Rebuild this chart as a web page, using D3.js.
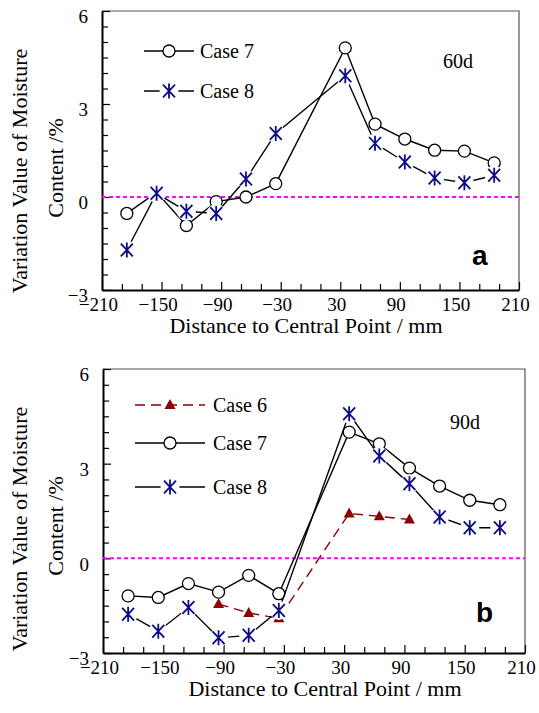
<!DOCTYPE html>
<html>
<head>
<meta charset="utf-8">
<script src="https://cdn.jsdelivr.net/npm/d3@7"></script>
<style>
	body { margin: 0; background: #fff; }
	svg { display: block; }
	svg text { font-family: "Liberation Serif", "Times New Roman", serif !important; }
	svg text.sans { font-family: "Liberation Sans", Arial, sans-serif !important; }
</style>
</head>
<body>
<svg id="chart" width="539" height="713"></svg>
<script>
// distance of each measuring point from the centre (mm)
var distances = [-185, -155, -125, -95, -65, -35, 35, 65, 95, 125, 155, 185];
var case6Distances = [-95, -65, -35, 35, 65, 95];

// 60 days
var case7_60d = [-0.53, 0.15, -0.92, -0.15, 0.0, 0.43, 4.81, 2.35, 1.87, 1.51, 1.48, 1.10];
var case8_60d = [-1.71, 0.12, -0.46, -0.53, 0.58, 2.05, 3.91, 1.73, 1.13, 0.61, 0.46, 0.70];

// 90 days
var case6_90d = [-1.45, -1.73, -1.90, 1.42, 1.33, 1.23];
var case7_90d = [-1.19, -1.24, -0.80, -1.07, -0.54, -1.12, 4.00, 3.63, 2.86, 2.29, 1.84, 1.70];
var case8_90d = [-1.77, -2.31, -1.56, -2.52, -2.44, -1.65, 4.58, 3.24, 2.36, 1.31, 0.97, 0.97];

var xMajorTicks = [-210, -150, -90, -30, 30, 90, 150, 210];
var yMajorTicks = [-3, 0, 3, 6];
var xDomain = [-210, 210];
var yDomain = [-3, 6];

var svg = d3.select("#chart");

var Marks = {
	star : function(r) {
		var a = r * 0.8, b = r * 0.85;
		return "M0," + (-r) + "L0," + r +
			   "M" + (-a) + "," + (-b) + "L" + a + "," + b +
			   "M" + a + "," + (-b) + "L" + (-a) + "," + b;
	},

	triangle : function(s) {
		var h = s * 0.9;
		return "M0," + (-h * 0.6) + "L" + (s / 2) + "," + (h * 0.4) + "L" + (-s / 2) + "," + (h * 0.4) + "Z";
	},

	draw : function(g, type, cx, cy) {
		if (type == "circle") {
			g.append("circle").attr("cx", cx).attr("cy", cy).attr("r", 6)
			 .attr("fill", "#fff").attr("stroke", "#000").attr("stroke-width", 1.3);
		}
		else if (type == "star") {
			g.append("circle").attr("cx", cx).attr("cy", cy).attr("r", 9.5).attr("fill", "#fff");
			g.append("path").attr("d", this.star(7.5)).attr("transform", "translate(" + cx + "," + cy + ")")
			 .attr("stroke", "#0b0b85").attr("stroke-width", 1.8).attr("fill", "none");
		}
		else if (type == "triangle") {
			g.append("path").attr("d", this.triangle(11)).attr("transform", "translate(" + cx + "," + cy + ")")
			 .attr("fill", "#8b0000");
		}
	}
};

var styles = {
	case6 : { label : "Case 6", marker : "triangle", color : "#8b0000", dash : "10,6" },
	case7 : { label : "Case 7", marker : "circle", color : "#000", dash : null },
	case8 : { label : "Case 8", marker : "star", color : "#000", dash : null }
};

function zip(xs, vs) {
	return xs.map(function(d, i) { return { x : d, v : vs[i] }; });
}

function sized(sel, size) {
	return sel.style("font-size", size + "px").attr("fill", "#000");
}

function drawPanel(cfg) {
	var g = svg.append("g");

	var x = d3.scaleLinear().domain(xDomain).range([cfg.left, cfg.right]);
	var y = d3.scaleLinear().domain(yDomain).range([cfg.bottom, cfg.top]);

	// thin frame on top and right
	g.append("path")
	 .attr("d", "M" + cfg.left + "," + cfg.top + "H" + cfg.right + "V" + cfg.bottom)
	 .attr("fill", "none").attr("stroke", "#555").attr("stroke-width", 1.2);

	// minor ticks
	var xMinor = d3.range(-210, 211, 20).filter(function(d) { return xMajorTicks.indexOf(d) < 0; });
	var yMinor = d3.range(-3, 6.01, 0.5).filter(function(d) { return yMajorTicks.indexOf(d) < 0; });

	g.append("g").attr("transform", "translate(0," + cfg.bottom + ")")
	 .call(d3.axisBottom(x).tickValues(xMinor).tickSize(-6).tickSizeOuter(0).tickFormat(""))
	 .call(function(a) { a.select(".domain").remove(); });

	g.append("g").attr("transform", "translate(" + cfg.left + ",0)")
	 .call(d3.axisLeft(y).tickValues(yMinor).tickSize(-6).tickSizeOuter(0).tickFormat(""))
	 .call(function(a) { a.select(".domain").remove(); });

	// major ticks with labels
	var xa = g.append("g").attr("transform", "translate(0," + cfg.bottom + ")")
			  .call(d3.axisBottom(x).tickValues(xMajorTicks).tickSize(-8).tickSizeOuter(0).tickPadding(7.5).tickFormat(d3.format("d")));
	sized(xa.selectAll("text"), 19).attr("dx", -4);
	xa.select(".domain").attr("stroke-width", 2);

	var ya = g.append("g").attr("transform", "translate(" + cfg.left + ",0)")
			  .call(d3.axisLeft(y).tickValues(yMajorTicks).tickSize(-8).tickSizeOuter(0).tickPadding(14).tickFormat(d3.format("d")));
	sized(ya.selectAll("text"), 19).attr("dy", "0.62em");
	ya.select(".domain").attr("stroke-width", 2);

	g.selectAll(".tick line").attr("stroke-width", 1.2);

	// zero line
	g.append("line")
	 .attr("x1", cfg.left).attr("x2", cfg.right)
	 .attr("y1", y(0)).attr("y2", y(0))
	 .attr("stroke", "#ff00ff").attr("stroke-width", 2).attr("stroke-dasharray", "4,3");

	// series
	var line = d3.line().x(function(d) { return x(d.x); }).y(function(d) { return y(d.v); });

	cfg.series.forEach(function(s) {
		var st = styles[s.key];
		var sg = g.append("g");

		sg.append("path").datum(s.data).attr("d", line)
		  .attr("fill", "none").attr("stroke", st.color).attr("stroke-width", 1.4)
		  .attr("stroke-dasharray", st.dash);

		s.data.forEach(function(d) { Marks.draw(sg, st.marker, x(d.x), y(d.v)); });
	});

	// legend
	var lg = g.append("g");

	cfg.series.forEach(function(s, i) {
		var st = styles[s.key];
		var ly = cfg.legend.y[i];

		lg.append("line")
		  .attr("x1", cfg.legend.x0).attr("x2", cfg.legend.x1)
		  .attr("y1", ly).attr("y2", ly)
		  .attr("stroke", st.color).attr("stroke-width", 1.4).attr("stroke-dasharray", st.dash);

		Marks.draw(lg, st.marker, (cfg.legend.x0 + cfg.legend.x1) / 2, ly);

		sized(lg.append("text"), 20).attr("x", cfg.legend.tx).attr("y", ly + 7).text(st.label);
	});

	// labels
	sized(g.append("text"), 20).attr("x", cfg.tag.x).attr("y", cfg.tag.y).text(cfg.tag.text);

	sized(g.append("text"), 28).attr("class", "sans")
	 .attr("x", cfg.letter.x).attr("y", cfg.letter.y)
	 .style("font-weight", "bold")
	 .text(cfg.letter.text);

	sized(g.append("text"), 22)
	 .attr("x", cfg.xTitle.x).attr("y", cfg.xTitle.y).attr("text-anchor", "middle")
	 .text("Distance to Central Point / mm");

	var yc = cfg.yTitleCenter;

	sized(g.append("text"), 22)
	 .attr("transform", "translate(27," + yc + ") rotate(-90)").attr("text-anchor", "middle")
	 .text("Variation Value of Moisture");

	sized(g.append("text"), 22)
	 .attr("transform", "translate(63," + (yc - 3) + ") rotate(-90)").attr("text-anchor", "middle")
	 .text("Content /%");
}

drawPanel({
	left : 102, right : 519, top : 11, bottom : 290,
	series : [
		{ key : "case7", data : zip(distances, case7_60d) },
		{ key : "case8", data : zip(distances, case8_60d) }
	],
	legend : { x0 : 144, x1 : 194, tx : 200, y : [51, 91] },
	tag : { text : "60d", x : 443, y : 68 },
	letter : { text : "a", x : 472, y : 265 },
	xTitle : { x : 306, y : 333 },
	yTitleCenter : 171
});

drawPanel({
	left : 103, right : 525, top : 369, bottom : 653,
	series : [
		{ key : "case6", data : zip(case6Distances, case6_90d) },
		{ key : "case7", data : zip(distances, case7_90d) },
		{ key : "case8", data : zip(distances, case8_90d) }
	],
	legend : { x0 : 135, x1 : 205, tx : 213, y : [405, 443, 487] },
	tag : { text : "90d", x : 450, y : 429 },
	letter : { text : "b", x : 476, y : 622 },
	xTitle : { x : 325, y : 696 },
	yTitleCenter : 529
});
</script>
</body>
</html>
